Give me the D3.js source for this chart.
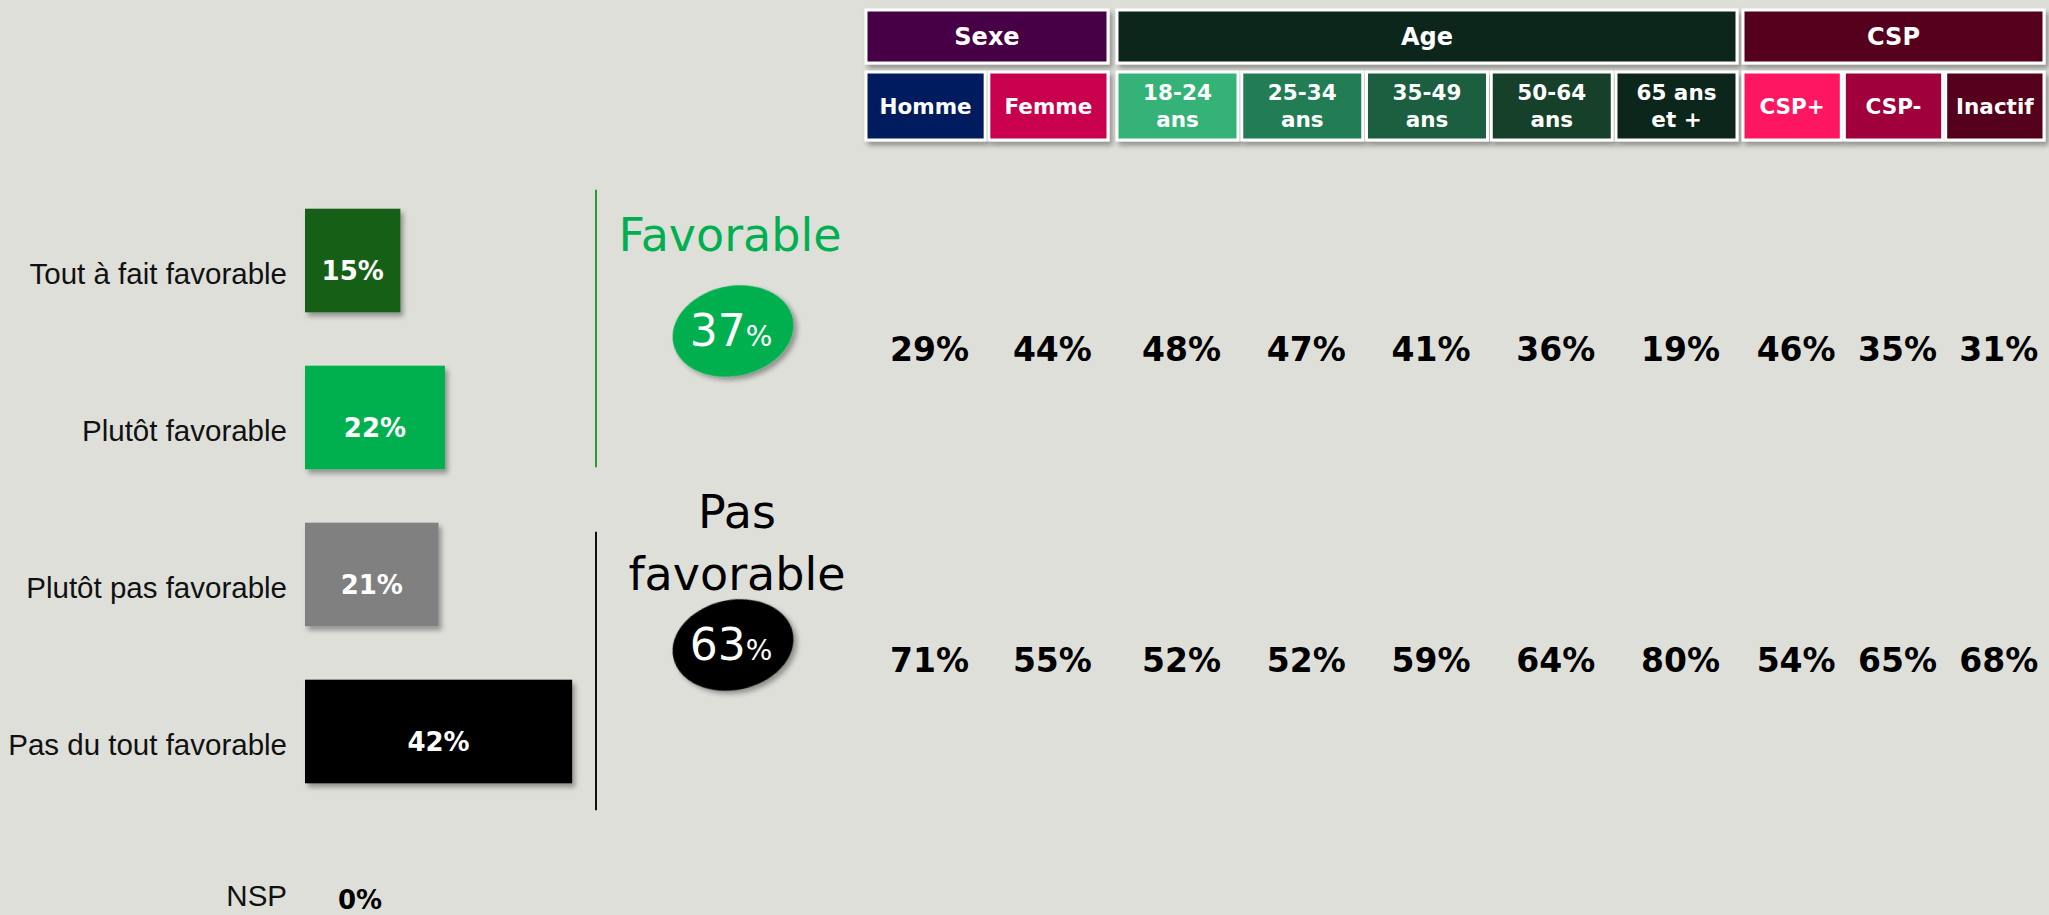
<!DOCTYPE html>
<html>
<head>
<meta charset="utf-8">
<script src="https://cdn.jsdelivr.net/npm/d3@7"></script>
<style>
  html, body { margin: 0; padding: 0; background: #dfdfda; }
  svg { display: block; }
</style>
</head>
<body>
<div id="container"></div>
<script>
// answers (left bars)
const answerLabels = ['Tout à fait favorable', 'Plutôt favorable', 'Plutôt pas favorable', 'Pas du tout favorable', 'NSP'];
const answerValues = [15, 22, 21, 42, 0];

// totals
const blockLabels = [['Favorable'], ['Pas', 'favorable']];
const blockTotals = [37, 63];

// crosstab columns
const groups = ['Sexe', 'Age', 'CSP'];
const columns = ['Homme', 'Femme', '18-24\nans', '25-34\nans', '35-49\nans', '50-64\nans', '65 ans\net +', 'CSP+', 'CSP-', 'Inactif'];
const columnGroup = ['Sexe', 'Sexe', 'Age', 'Age', 'Age', 'Age', 'Age', 'CSP', 'CSP', 'CSP'];
const favorableValues = [29, 44, 48, 47, 41, 36, 19, 46, 35, 31];
const pasFavorableValues = [71, 55, 52, 52, 59, 64, 80, 54, 65, 68];

// colours
const barColors = ['#185f18', '#00b050', '#808080', '#000000', '#000000'];
const blockColors = ['#00b050', '#000000'];
const groupColors = { Sexe: '#470045', Age: '#0d271b', CSP: '#55001e' };
const columnColors = ['#001e5e', '#c8004e', '#35b277', '#237d55', '#1d5e40', '#15402c', '#0e281b', '#ff1462', '#a0003a', '#55001e'];

const width = 2049, height = 915;
let x, y;

let svg = d3.select('#container').append('svg')
  .attr('width', width)
  .attr('height', height);

let defs = svg.append('defs');
defs.append('filter')
  .attr('id', 'shadow')
  .attr('x', '-10%').attr('y', '-10%')
  .attr('width', '130%').attr('height', '140%')
  .append('feDropShadow')
  .attr('dx', 3).attr('dy', 4)
  .attr('stdDeviation', 2.5)
  .attr('flood-color', '#000')
  .attr('flood-opacity', 0.35);

main();

function main() {
  drawHeader();
  drawBars();
  drawBlocks();
}

function drawHeader() {
  const groupRanges = { Sexe: [866, 1108], Age: [1117, 1737], CSP: [1743, 2044] };

  let header = svg.append('g').attr('class', 'header');

  groups.forEach((g) => {
    const cols = columns.filter((c, i) => columnGroup[i] === g);
    const xg = d3.scaleBand().domain(cols).range(groupRanges[g]).paddingInner(0.03);

    header.append('rect')
      .attr('x', groupRanges[g][0])
      .attr('y', 10)
      .attr('width', groupRanges[g][1] - groupRanges[g][0])
      .attr('height', 53)
      .attr('fill', groupColors[g])
      .attr('stroke', '#fff')
      .attr('stroke-width', 3)
      .attr('filter', 'url(#shadow)');

    header.append('text')
      .attr('x', (groupRanges[g][0] + groupRanges[g][1]) / 2)
      .attr('y', 45)
      .attr('text-anchor', 'middle')
      .style('font-family', 'DejaVu Sans, sans-serif')
      .style('font-weight', 'bold')
      .style('font-size', '24px')
      .style('fill', '#fff')
      .text(g);

    cols.forEach((c) => {
      const i = columns.indexOf(c);
      header.append('rect')
        .attr('x', xg(c))
        .attr('y', 72)
        .attr('width', xg.bandwidth())
        .attr('height', 68)
        .attr('fill', columnColors[i])
        .attr('stroke', '#fff')
        .attr('stroke-width', 3)
        .attr('filter', 'url(#shadow)');

      const lines = c.split('\n');
      let t = header.append('text')
        .attr('text-anchor', 'middle')
        .style('font-family', 'DejaVu Sans, sans-serif')
        .style('font-weight', 'bold')
        .style('font-size', '21.5px')
        .style('fill', '#fff');
      lines.forEach((l, k) => {
        t.append('tspan')
          .attr('x', xg(c) + xg.bandwidth() / 2)
          .attr('y', lines.length > 1 ? 100 + k * 27 : 114)
          .text(l);
      });

      // values under each column
      const cx = xg(c) + xg.bandwidth() / 2 + 4;
      [favorableValues, pasFavorableValues].forEach((vals, b) => {
        svg.append('text')
          .attr('class', 'col-value')
          .attr('x', cx)
          .attr('y', b === 0 ? 361 : 672)
          .attr('text-anchor', 'middle')
          .style('font-family', 'DejaVu Sans, sans-serif')
          .style('font-weight', 'bold')
          .style('font-size', '33px')
          .style('fill', '#000')
          .text(vals[i] + '%');
      });
    });
  });
}

function drawBars() {
  y = d3.scaleBand()
    .domain(answerLabels)
    .range([182, 967])
    .paddingInner(0.34)
    .paddingOuter(0.17);

  x = d3.scaleLinear()
    .domain([0, 100])
    .range([305, 941]);

  let bars = svg.append('g').attr('class', 'bars');

  bars.selectAll('rect')
    .data(answerLabels)
    .enter()
    .append('rect')
    .attr('x', x(0))
    .attr('y', (d) => y(d))
    .attr('width', (d, i) => x(answerValues[i]) - x(0))
    .attr('height', y.bandwidth())
    .attr('fill', (d, i) => barColors[i])
    .attr('filter', 'url(#shadow)');

  // the last row (NSP) sits at the bottom edge, so it is lifted a little
  const labelDy = (i) => i === answerLabels.length - 1 ? 17 : 23;

  bars.selectAll('text.label')
    .data(answerLabels)
    .enter()
    .append('text')
    .attr('class', 'label')
    .attr('x', x(0) - 18)
    .attr('y', (d, i) => y(d) + y.bandwidth() / 2 + labelDy(i))
    .attr('text-anchor', 'end')
    .style('font-family', 'Liberation Sans, Arial, sans-serif')
    .style('font-size', '29.5px')
    .style('fill', '#111')
    .text((d) => d);

  bars.selectAll('text.value')
    .data(answerLabels)
    .enter()
    .append('text')
    .attr('class', 'value')
    .attr('x', (d, i) => answerValues[i] > 0 ? (x(0) + x(answerValues[i])) / 2 : x(0) + 55)
    .attr('y', (d, i) => y(d) + y.bandwidth() / 2 + (answerValues[i] > 0 ? 19 : 20))
    .attr('text-anchor', 'middle')
    .style('font-family', 'DejaVu Sans, sans-serif')
    .style('font-weight', 'bold')
    .style('font-size', '26px')
    .style('fill', (d, i) => answerValues[i] > 0 ? '#fff' : '#000')
    .text((d, i) => answerValues[i] + '%');
}

function drawBlocks() {
  const blockRows = [[0, 1], [2, 3]];
  const lineSpans = [[-19, -2], [9, 27]];

  blockRows.forEach((rows, b) => {
    const top = y(answerLabels[rows[0]]);
    const bottom = y(answerLabels[rows[1]]) + y.bandwidth();
    const mid = (top + bottom) / 2;
    const cx = 733;
    const cy = mid - 8;

    svg.append('line')
      .attr('x1', 596).attr('x2', 596)
      .attr('y1', top + lineSpans[b][0])
      .attr('y2', bottom + lineSpans[b][1])
      .attr('stroke', b === 0 ? '#2a9a2a' : '#111')
      .attr('stroke-width', 2);

    const lines = blockLabels[b];
    let title = svg.append('text')
      .attr('text-anchor', 'middle')
      .style('font-family', 'DejaVu Sans, sans-serif')
      .style('font-size', '46px')
      .style('fill', blockColors[b]);
    lines.forEach((l, k) => {
      title.append('tspan')
        .attr('x', b === 0 ? cx - 3 : cx + 4)
        .attr('y', cy - 80 + (lines.length - 1 - k) * -62 + (lines.length > 1 ? 25 : 0))
        .text(l);
    });

    svg.append('ellipse')
      .attr('cx', cx)
      .attr('cy', cy)
      .attr('rx', 61)
      .attr('ry', 45)
      .attr('transform', `rotate(-12, ${cx}, ${cy})`)
      .attr('fill', blockColors[b])
      .attr('filter', 'url(#shadow)');

    let t = svg.append('text')
      .attr('x', cx - 2)
      .attr('y', cy + 15)
      .attr('text-anchor', 'middle')
      .style('font-family', 'DejaVu Sans, sans-serif')
      .style('fill', '#fff');
    t.append('tspan').style('font-size', '44px').text(blockTotals[b]);
    t.append('tspan').style('font-size', '28px').text('%');
  });
}
</script>
</body>
</html>
